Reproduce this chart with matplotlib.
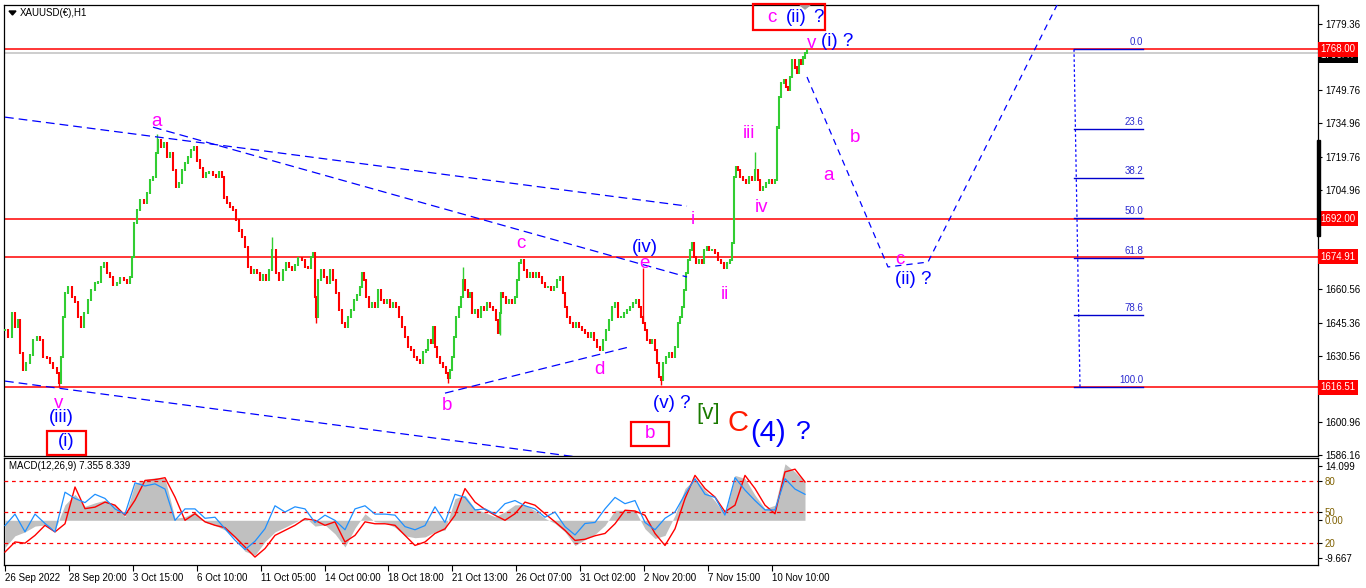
import numpy as np
import matplotlib
matplotlib.use("Agg")
import matplotlib.pyplot as plt
from matplotlib.patches import Rectangle, Polygon

plt.rcParams['font.family'] = ['Liberation Sans', 'DejaVu Sans']

# ---- price data (XAUUSD H1, ~every 3 hours) ----
hours = [0, 3, 7, 10, 13, 15, 18, 21, 25, 28,
         32, 35, 38, 42, 45, 48, 52, 54, 56, 58,
         60, 63, 67, 70, 73, 76, 79, 83, 86, 90,
         93, 96, 99, 102, 105, 108, 112, 115, 119, 122,
         125, 127, 129, 132, 135, 139, 142, 145, 148, 151,
         153, 156, 159, 162, 165, 168, 171, 174, 177, 180,
         183, 186, 189, 192, 195, 198, 201, 204, 208, 211,
         214, 217, 219, 222, 225, 228, 231, 234, 237, 240,
         243, 246, 249, 252, 255, 258, 261, 264, 267, 271,
         274, 278, 281, 284, 287, 290, 293, 297, 300, 303,
         306, 308, 310, 311, 313, 316, 319, 322, 325, 328,
         331, 334, 337, 340, 343, 346, 349, 352, 355, 357,
         359, 361, 364, 367, 370, 373, 376, 379, 382, 385,
         388, 391, 394, 397, 400, 403, 406, 409, 412, 415,
         418, 421, 423, 426, 428, 430, 432, 435, 438, 441,
         443, 445, 447, 449, 451, 454, 456, 458, 460, 463,
         465, 467, 470, 473, 476, 479, 482, 485, 488, 491,
         493, 495, 496, 498, 501, 504, 507, 510, 512, 514,
         516, 519, 522, 525, 528, 531, 534, 537, 540, 543,
         546, 549, 552, 555, 558, 560, 562, 565, 568, 571,
         574, 577, 580, 583, 586, 589, 592, 595, 598, 601,
         604, 607, 610, 613, 616, 619, 622, 625, 628, 631,
         634, 636, 638, 640, 642, 645, 647, 650, 652, 654,
         656, 658, 661, 664, 667, 670, 673, 675, 677, 679,
         681, 683, 685, 687, 689, 691, 694, 697, 699, 702,
         704, 707, 710, 713, 716, 719, 722, 725, 727, 729,
         731, 733, 735, 738, 741, 744, 747, 750, 753, 755,
         758, 761, 764, 767, 770, 772, 774, 776, 779, 781,
         783, 785, 787, 790, 792, 794, 796, 798, 800, 802]
closes = [1642.1, 1639.0, 1649.7, 1643.4, 1646.6, 1631.8, 1624.2, 1627.3, 1630.9, 1637.6,
          1639.0, 1637.6, 1630.0, 1629.5, 1627.3, 1625.1, 1622.8, 1618.3, 1630.0, 1647.9,
          1658.7, 1661.4, 1656.9, 1654.7, 1647.9, 1643.4, 1649.7, 1655.6, 1660.0, 1663.2,
          1663.6, 1670.4, 1672.2, 1667.7, 1665.9, 1662.3, 1663.2, 1665.4, 1664.5, 1663.2,
          1665.9, 1674.8, 1690.1, 1695.9, 1700.4, 1699.1, 1703.5, 1709.4, 1710.7, 1721.5,
          1727.3, 1724.2, 1726.0, 1719.7, 1721.5, 1713.9, 1706.2, 1708.0, 1713.9, 1717.0,
          1719.7, 1722.8, 1724.2, 1718.3, 1714.8, 1710.7, 1712.5, 1713.0, 1711.6, 1710.7,
          1713.0, 1710.7, 1701.7, 1699.1, 1697.3, 1695.9, 1691.4, 1686.9, 1683.8, 1679.3,
          1670.4, 1667.7, 1669.0, 1667.7, 1664.5, 1666.8, 1664.5, 1669.0, 1678.0, 1667.7,
          1664.5, 1669.0, 1672.2, 1670.4, 1669.0, 1671.3, 1674.4, 1673.5, 1670.4, 1669.9,
          1674.8, 1676.6, 1656.9, 1647.9, 1664.5, 1669.0, 1665.9, 1663.2, 1669.0, 1664.5,
          1658.7, 1651.1, 1645.2, 1643.4, 1647.9, 1651.1, 1655.6, 1657.8, 1661.4, 1667.7,
          1664.5, 1656.9, 1652.4, 1654.2, 1652.4, 1660.0, 1655.6, 1654.2, 1655.6, 1652.4,
          1654.2, 1652.4, 1647.9, 1643.4, 1639.0, 1634.5, 1633.1, 1630.0, 1628.6, 1627.3,
          1632.2, 1633.1, 1637.6, 1636.3, 1643.4, 1634.5, 1630.0, 1627.3, 1625.5, 1622.8,
          1620.6, 1624.2, 1630.0, 1639.0, 1647.9, 1652.4, 1656.9, 1664.5, 1660.0, 1656.9,
          1658.7, 1649.7, 1651.1, 1647.9, 1652.4, 1651.1, 1654.2, 1652.4, 1651.1, 1646.6,
          1640.8, 1649.7, 1658.7, 1656.9, 1654.2, 1655.6, 1654.2, 1656.9, 1664.5, 1672.2,
          1673.5, 1669.0, 1665.9, 1667.7, 1665.9, 1667.7, 1665.9, 1663.2, 1661.4, 1661.4,
          1660.0, 1661.4, 1664.5, 1665.9, 1658.7, 1652.4, 1647.9, 1645.2, 1643.4, 1645.2,
          1643.4, 1642.1, 1640.8, 1639.0, 1640.8, 1637.6, 1634.5, 1633.1, 1637.6, 1642.1,
          1646.6, 1652.4, 1654.2, 1647.9, 1647.9, 1649.7, 1651.1, 1652.4, 1654.2, 1655.6,
          1652.4, 1647.9, 1645.2, 1642.1, 1637.6, 1636.3, 1637.6, 1633.1, 1627.3, 1621.0,
          1619.7, 1627.3, 1630.0, 1631.8, 1630.0, 1634.5, 1645.2, 1647.9, 1652.4, 1660.0,
          1667.7, 1673.5, 1678.0, 1681.1, 1674.8, 1672.2, 1673.5, 1672.2, 1678.0, 1679.3,
          1678.0, 1678.0, 1676.6, 1673.5, 1672.2, 1669.9, 1672.2, 1673.5, 1681.1, 1710.7,
          1715.2, 1713.9, 1710.7, 1709.4, 1708.0, 1710.7, 1709.4, 1713.9, 1709.4, 1704.9,
          1706.2, 1708.0, 1709.4, 1708.0, 1709.4, 1733.1, 1746.6, 1752.9, 1754.2, 1751.1,
          1749.7, 1755.6, 1763.2, 1760.0, 1757.4, 1763.2, 1761.8, 1764.5, 1766.3, 1767.7]
# long wicks
spike_hours = [54, 152, 267, 311, 443, 458, 495, 638, 656, 750]
spike_prices = [1616.5, 1730.0, 1683.8, 1645.2, 1618.3, 1670.4, 1640.0, 1669.9, 1617.5, 1721.9]

# horizontal levels
red_levels = [1768.00, 1692.00, 1674.91, 1616.51]
bid_price = 1766.47
price_ticks = [1779.36, 1749.76, 1734.96, 1719.76, 1704.96,
               1660.56, 1645.36, 1630.56, 1600.96, 1586.16]

# fibonacci retracement
fib_high, fib_low = 1768.00, 1616.51
fib_ratios = [0.0, 23.6, 38.2, 50.0, 61.8, 78.6, 100.0]

# trend lines (hour, price) pairs
trend_lines = [
    ([0, 682], [1737.6, 1697.7]),
    ([148, 682], [1733.1, 1665.9]),
    ([0, 620], [1619.2, 1582.3]),
    ([440, 624], [1613.8, 1634.5]),
]
# projected path
proj_hours = [802, 883, 923, 1060]
proj_prices = [1755.6, 1670.4, 1672.6, 1795.0]

# MACD panel, one value every 10 hours
macd_hist = [-7.0, -4.0, -3.0, -1.5, -1.2, -2.5, 4.0, 6.7, 3.6, 4.5,
             5.2, 4.0, 0.9, 9.5, 10.5, 11.0, 10.8, 0.5, 0.9, 2.2,
             -0.5, -1.3, -2.5, -4.5, -8.0, -9.0, -5.5, -3.0, -1.8, -0.5,
             0.8, -1.5, -1.2, -3.5, -6.9, -2.0, 1.7, -0.4, -0.6, -1.8,
             -4.0, -4.5, -4.3, -3.0, -2.5, 5.6, 6.5, 3.0, 2.0, 0.9,
             2.2, 4.0, 4.0, 2.5, 0.5, -0.8, -3.0, -6.5, -5.0, -3.6,
             -1.3, 2.6, 2.6, 2.6, -2.2, -4.7, -3.9, 1.3, 8.2, 10.8,
             7.8, 5.0, 1.3, 11.6, 10.8, 6.5, 3.0, 3.9, 14.6, 12.5,
             9.9]
macd_signal = [-8.2, -5.6, -5.9, -3.9, -1.3, -3.0, -0.9, 8.6, 3.0, 3.4,
               4.7, 3.9, 1.3, 5.2, 10.3, 10.5, 11.0, 6.0, 0.0, 1.7,
               -0.4, -1.3, -1.9, -4.3, -6.9, -9.5, -7.3, -3.9, -2.6, -1.3,
               0.4, 0.0, -1.3, -0.4, -5.6, -3.9, -0.4, -0.9, -0.9, -1.3,
               -3.9, -6.5, -5.6, -3.4, -2.2, 1.3, 8.2, 4.7, 2.8, 1.3,
               0.0, 1.7, 4.7, 3.9, 1.7, -0.4, -2.6, -5.2, -4.9, -4.0,
               -3.4, -0.9, 2.6, 2.4, 1.3, -3.4, -6.5, -2.2, 5.6, 11.6,
               8.2, 6.0, 2.2, 3.9, 11.6, 8.2, 3.9, 1.7, 12.5, 13.2,
               9.9]
osc_line = [37, 48, 31, 48, 39, 31, 69, 63, 59, 67,
            63, 53, 48, 78, 75, 77, 72, 42, 53, 53,
            44, 45, 34, 23, 14, 22, 34, 56, 50, 55,
            53, 40, 47, 42, 33, 53, 56, 48, 48, 47,
            36, 33, 37, 55, 40, 67, 64, 52, 53, 48,
            58, 61, 56, 53, 45, 50, 36, 28, 39, 40,
            53, 64, 58, 61, 40, 33, 44, 50, 67, 82,
            67, 64, 47, 83, 71, 61, 52, 52, 82, 72,
            67]
osc_levels = [80, 50, 20]

time_ticks = [0, 64, 128, 192, 256, 320, 383, 447, 511, 575, 639, 703, 767]
time_labels = ["26 Sep 2022", "28 Sep 20:00", "3 Oct 15:00", "6 Oct 10:00",
               "11 Oct 05:00", "14 Oct 00:00", "18 Oct 18:00", "21 Oct 13:00",
               "26 Oct 07:00", "31 Oct 02:00", "2 Nov 20:00", "7 Nov 15:00",
               "10 Nov 10:00"]

# ---- figure ----
W, H = 1366, 588
fig = plt.figure(figsize=(W / 100, H / 100), dpi=100)


def px_rect(x0, y0, x1, y1):
    return [x0 / W, 1 - y1 / H, (x1 - x0) / W, (y1 - y0) / H]


def box(x0, y0, x1, y1, **kw):
    fig.add_artist(Rectangle((x0 / W, 1 - y1 / H), (x1 - x0) / W, (y1 - y0) / H,
                             transform=fig.transFigure, **kw))


def lab(x, y, s, color, size=13.5):
    fig.text(x / W, 1 - y / H, s, color=color, fontsize=size, ha='center', va='center')


ax = fig.add_axes(px_rect(4, 5, 1318, 456))
am = fig.add_axes(px_rect(4, 458, 1318, 565))
ao = am.twinx()
for a in (ax, am, ao):
    a.set_xlim(-1, 1313)
    for s in a.spines.values():
        s.set_linewidth(0.9)
ax.set_ylim(1585.6, 1787.9)

# candles
c = np.array(closes)
o = np.r_[c[0], c[:-1]]
cols = np.where(c >= o, '#32cd32', '#ff0000')
ax.vlines(hours, np.minimum(o, c) - 0.6, np.maximum(o, c) + 0.6, colors=cols, linewidth=1.5, zorder=3)
for h, p in zip(spike_hours, spike_prices):
    i = int(np.argmin(np.abs(np.array(hours) - h)))
    ax.vlines(h, min(p, c[i]), max(p, c[i]), colors=cols[i], linewidth=1.0, zorder=3)

for lv in red_levels:
    ax.axhline(lv, color='red', linewidth=1.1, zorder=2)
ax.axhline(bid_price, color='#c0c0c0', linewidth=1.1, zorder=1)

for xs, ys in trend_lines:
    ax.plot(xs, ys, color='#0000ff', linewidth=0.9, dashes=(7, 4), zorder=4)
ax.plot(proj_hours, proj_prices, color='#0000ff', linewidth=0.9, dashes=(5, 4), zorder=4)

# fibonacci
fib_prices = [fib_high - r / 100 * (fib_high - fib_low) for r in fib_ratios]
ax.plot([1069, 1075], [fib_high, fib_low], color='#0000ff', linewidth=0.9, dashes=(2, 2), zorder=4)
for r, p in zip(fib_ratios, fib_prices):
    ax.plot([1069, 1138], [p, p], color='#0000cc', linewidth=1.0, zorder=4)
    ax.annotate(f"{r:.1f}", (1138, p), xytext=(0, 1.5), textcoords='offset points',
                ha='right', va='bottom', fontsize=7, color='#2a2ad0')

# right price scale
ax.yaxis.tick_right()
ax.set_yticks(price_ticks)
ax.set_yticklabels([f"{t:.2f}" for t in price_ticks])
ax.tick_params(axis='y', direction='out', length=3, pad=2, labelsize=7, width=0.8)
ax.set_xticks([])
ytr = ax.get_yaxis_transform()
ax.text(1.0018, bid_price - 1.2, f"{bid_price:.2f}", transform=ytr, fontsize=7, color='white',
        va='center', ha='left', bbox=dict(boxstyle='square,pad=0.25', fc='black', ec='none'),
        zorder=5, clip_on=False)
for lv in red_levels:
    ax.text(1.0018, lv, f"{lv:.2f}", transform=ytr, fontsize=7, color='white',
            va='center', ha='left', bbox=dict(boxstyle='square,pad=0.25', fc='red', ec='none'),
            zorder=6, clip_on=False)

# MACD panel
mh = np.arange(len(macd_hist)) * 10
am.set_ylim(-11.55, 16.09)
am.fill_between(mh, 0, macd_hist, color='#c0c0c0', linewidth=0, zorder=1)
am.plot(mh, macd_signal, color='red', linewidth=1.0, zorder=3)
am.yaxis.tick_right()
am.set_yticks([14.099, 0.0, -9.667])
am.set_yticklabels(['14.099', '0.00', '-9.667'])
am.tick_params(axis='y', which='both', left=False, labelleft=False, right=True, labelright=True,
               direction='out', length=3, pad=2, labelsize=7, width=0.8)
am.get_yticklabels()[1].set_color('#7f6000')
am.set_xticks(time_ticks)
am.set_xticklabels(time_labels)
am.tick_params(axis='x', direction='out', length=4, pad=2, labelsize=7, width=0.8)
for t in am.get_xticklabels():
    t.set_ha('left')

ao.set_ylim(-0.8, 101.8)
for lv in osc_levels:
    ao.axhline(lv, color='red', linewidth=0.9, dashes=(3, 3))
ao.plot(mh, osc_line, color='#1e90ff', linewidth=0.9, zorder=2)
ao.set_yticks(osc_levels)
ao.tick_params(axis='y', direction='out', length=3, pad=2, labelsize=7, width=0.8, labelcolor='#7f6000')
for s in ao.spines.values():
    s.set_visible(False)

# header texts
fig.add_artist(Polygon([(9 / W, 1 - 11 / H), (16 / W, 1 - 11 / H), (12.5 / W, 1 - 15 / H)],
                       closed=True, color='black', transform=fig.transFigure))
fig.text(20 / W, 1 - 13 / H, "XAUUSD(€),H1", fontsize=7, va='center')
fig.text(9 / W, 1 - 466 / H, "MACD(12,26,9) 7.355 8.339", fontsize=7, va='center')
fig.add_artist(Polygon([(800 / W, 1 - 5 / H), (810 / W, 1 - 5 / H), (805 / W, 1 - 9 / H)],
                       closed=True, color='#a0a0a0', transform=fig.transFigure))
box(1316.5, 140, 1319.5, 236, color='black')

# wave labels
mag, blu = '#ff00ff', '#0000ff'
for s, x, y in [("a", 156, 121), ("v", 59, 404), ("b", 447, 405), ("c", 521, 244),
                ("d", 599, 369), ("e", 644, 263), ("i", 693, 220), ("ii", 725, 295),
                ("iii", 749, 133), ("iv", 761, 208), ("v", 812, 44), ("b", 855, 137),
                ("a", 829, 176), ("c", 900, 259)]:
    lab(x, y, s, mag)
for s, x, y in [("(iii)", 61, 418), ("(i)", 66, 442), ("(iv)", 645, 247), ("(v) ?", 672, 404),
                ("(i) ?", 837, 42), ("(ii) ?", 913, 279), ("(ii)", 796, 17), ("?", 818, 17)]:
    lab(x, y, s, blu)
lab(772, 18, "c", mag)
lab(650, 434, "b", mag)
lab(708, 414, "[v]", '#1a7a00', 16)
lab(738, 423, "C", '#ff1a00', 21)
lab(768, 433, "(4)", blu, 21)
lab(803, 432, "?", blu, 19)
for x0, y0, x1, y1 in [(47, 431, 86, 455), (631, 422, 669, 446), (753, 4, 825, 30)]:
    box(x0, y0, x1, y1, fill=False, ec='red', linewidth=1.6)

fig.savefig("out.png", dpi=100, facecolor='white')
